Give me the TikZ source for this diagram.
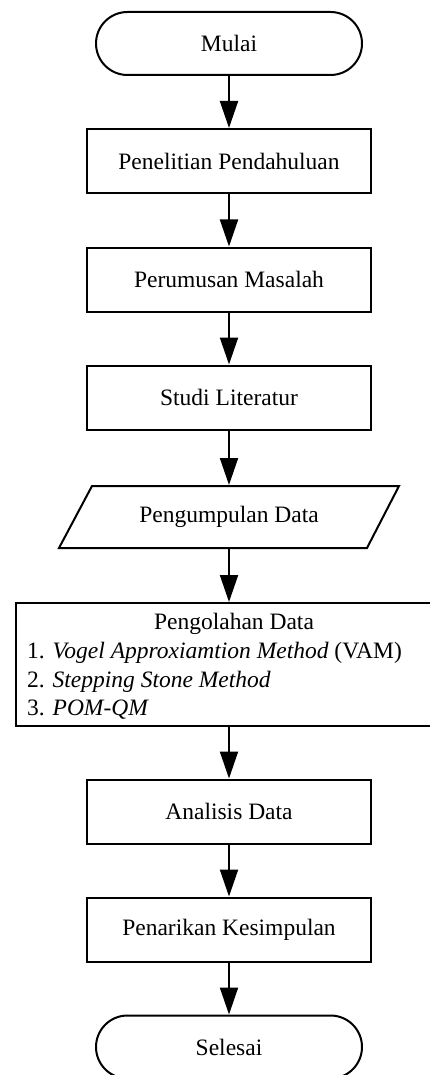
\documentclass[tikz,border=0pt]{standalone}
\usepackage{fontspec}
\setmainfont{Liberation Serif}
\usetikzlibrary{arrows.meta,shapes.misc}
\newcommand\myfs{\fontsize{23.5}{27.5}\selectfont}
\begin{document}
\begin{tikzpicture}[x=1pt,y=-1pt,font=\myfs,
  box/.style={draw, line width=2pt, minimum width=284pt, minimum height=64pt, inner sep=0pt},
  term/.style={draw, rounded rectangle, line width=2pt, minimum width=266pt, minimum height=63pt, inner sep=0pt},
  arr/.style={line width=2pt, -{Triangle[length=27pt,width=18pt]}}]
\path[use as bounding box, clip] (0,0) rectangle (430,1075);
\node[term] (start) at (229,43.5) {Mulai};
\node[box] (pp) at (229,161) {Penelitian Pendahuluan};
\node[box] (pm) at (229,279.5) {Perumusan Masalah};
\node[box] (sl) at (229,397.5) {Studi Literatur};
\node[minimum width=308pt, minimum height=62pt, inner sep=0pt, outer sep=1pt] (pd) at (229,517) {Pengumpulan Data};
\draw[line width=2pt, line join=miter] (92,486) -- (399,486) -- (367,548) -- (59,548) -- cycle;
\node[draw, line width=2pt, minimum width=426pt, minimum height=123pt, inner sep=0pt] (po) at (229,664.5) {};
\node[anchor=base] (po0) at (234,629) {Pengolahan Data};
\node[anchor=base west, inner sep=0pt] (po1) at (27,658) {1. \textit{Vogel Approxiamtion Method} (VAM)};
\node[anchor=base west, inner sep=0pt] (po2) at (27,687) {2. \textit{Stepping Stone Method}};
\node[anchor=base west, inner sep=0pt] (po3) at (27,715) {3. \textit{POM-QM}};
\node[box] (an) at (229,811.5) {Analisis Data};
\node[box] (pk) at (229,929.5) {Penarikan Kesimpulan};
\node[term] (end) at (229,1047) {Selesai};
\draw[arr] (start.south) -- (pp.north);
\draw[arr] (pp.south) -- (pm.north);
\draw[arr] (pm.south) -- (sl.north);
\draw[arr] (sl.south) -- (pd.north);
\draw[arr] (pd.south) -- (po.north);
\draw[arr] (po.south) -- (an.north);
\draw[arr] (an.south) -- (pk.north);
\draw[arr] (pk.south) -- (end.north);
\end{tikzpicture}
\end{document}
